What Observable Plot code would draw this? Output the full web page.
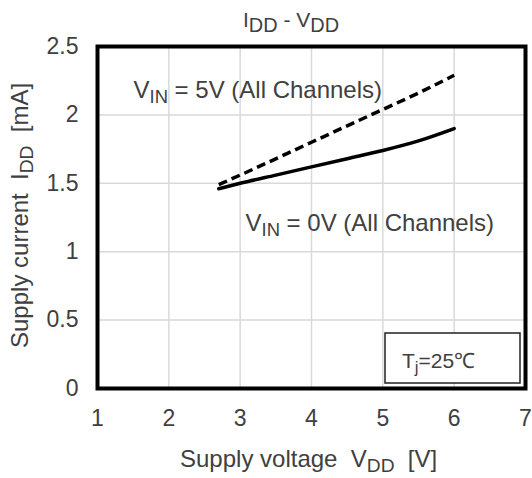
<!DOCTYPE html>
<html><head><meta charset="utf-8">
<script src="https://cdn.jsdelivr.net/npm/d3@7"></script>
<script src="https://cdn.jsdelivr.net/npm/@observablehq/plot@0.6"></script>
<style>body{margin:0;background:#fff}</style>
</head><body><div id="chart"></div>
<script>
// VIN = 0V (solid)
const vdd0 = [2.7, 3, 3.5, 4, 4.5, 5, 5.5, 6];
const idd0 = [1.46, 1.50, 1.56, 1.62, 1.68, 1.74, 1.81, 1.90];
// VIN = 5V (dashed)
const vdd5 = [2.7, 3, 4, 5, 5.5, 6];
const idd5 = [1.49, 1.56, 1.80, 2.04, 2.16, 2.29];
const xTicks = [1, 2, 3, 4, 5, 6, 7];
const yTicks = [0, 0.5, 1, 1.5, 2, 2.5];
const annX = [1.505, 3.075];
const annY = [2.127, 1.15];
const annText = ["V_{IN} = 5V (All Channels)", "V_{IN} = 0V (All Channels)"];
const titleText = "I_{DD} - V_{DD}";
const xLabel = "Supply voltage  V_{DD}  [V]";
const yLabel = "Supply current  I_{DD}  [mA]";
const tjText = "T_{j}=25\u2103";

const solid = vdd0.map((v, i) => ({v, i: idd0[i]}));
const dashed = vdd5.map((v, i) => ({v, i: idd5[i]}));
const anns = annText.map((t, k) => ({x: annX[k], y: annY[k], text: t}));

const W = 532, H = 478, mL = 97, mR = 7, mT = 46, mB = 90;
const font = "'Liberation Sans', Arial, sans-serif";
const grey = "#404040";

const svg = Plot.plot({
  width: W, height: H,
  marginLeft: mL, marginRight: mR, marginTop: mT, marginBottom: mB,
  x: {domain: [1, 7]},
  y: {domain: [0, 2.5]},
  style: {fontFamily: font, fontSize: "23px", color: grey, background: "white"},
  marks: [
    Plot.gridX(xTicks.slice(1, -1), {stroke: "#d9d9d9", strokeOpacity: 1, strokeWidth: 1.5}),
    Plot.gridY(yTicks.slice(1, -1), {stroke: "#d9d9d9", strokeOpacity: 1, strokeWidth: 1.5}),
    Plot.axisX(xTicks, {tickSize: 0, tickPadding: 21, label: null, tickFormat: d => String(d)}),
    Plot.axisY(yTicks, {tickSize: 0, tickPadding: 19, label: null, tickFormat: d => String(d)}),
    Plot.line(solid, {x: "v", y: "i", stroke: "black", strokeWidth: 3.5, curve: "monotone-x"}),
    Plot.line(dashed, {x: "v", y: "i", stroke: "black", strokeWidth: 3.5, strokeDasharray: "9,5", strokeLinecap: "butt", curve: "monotone-x"}),
    Plot.text(anns, {x: "x", y: "y", text: "text", textAnchor: "start", lineAnchor: "bottom", fontSize: 24, fill: grey}),
    Plot.frame({stroke: "black", strokeWidth: 4})
  ]
});

function subscriptify(el, fs, subScale, shift) {
  const s = el.textContent;
  if (!s.includes("_{")) return;
  el.textContent = "";
  const parts = s.split(/(_\{[^}]*\})/);
  let down = false;
  for (const p of parts) {
    if (!p) continue;
    const m = p.match(/^_\{(.*)\}$/);
    const t = d3.select(el).append("tspan");
    if (m) {
      t.text(m[1]).attr("font-size", fs * subScale).attr("dy", shift);
      down = true;
    } else {
      t.text(p);
      if (down) { t.attr("dy", -shift); down = false; }
    }
  }
}

const root = d3.select(svg);
// extra texts
root.append("text").attr("x", 243).attr("y", 27).attr("font-size", 21).attr("fill", grey)
  .attr("text-anchor", "start").style("white-space", "pre").text(titleText);
root.append("text").attr("x", 180).attr("y", 467).attr("font-size", 24).attr("fill", grey)
  .attr("text-anchor", "start").style("white-space", "pre").text(xLabel);
root.append("text").attr("transform", "translate(28,348) rotate(-90)").attr("font-size", 24).attr("fill", grey)
  .attr("text-anchor", "start").style("white-space", "pre").text(yLabel);
// Tj box anchored to bottom-right of frame
const fr = W - mR, fb = H - mB;
root.append("rect").attr("x", fr - 140).attr("y", fb - 55).attr("width", 135).attr("height", 50)
  .attr("fill", "white").attr("stroke", "#222").attr("stroke-width", 1.5);
root.append("text").attr("x", fr - 123).attr("y", fb - 20).attr("text-anchor", "start")
  .attr("font-size", 21).attr("fill", grey).text(tjText);

root.selectAll("text").each(function() {
  const fsAttr = parseFloat(this.getAttribute("font-size")) || parseFloat(getComputedStyle(this).fontSize) || 23;
  const isTitle = this.textContent === titleText;
  subscriptify(this, fsAttr, isTitle ? 0.95 : 0.8, fsAttr * 0.22);
});

document.getElementById("chart").appendChild(svg);
</script>
</body></html>
